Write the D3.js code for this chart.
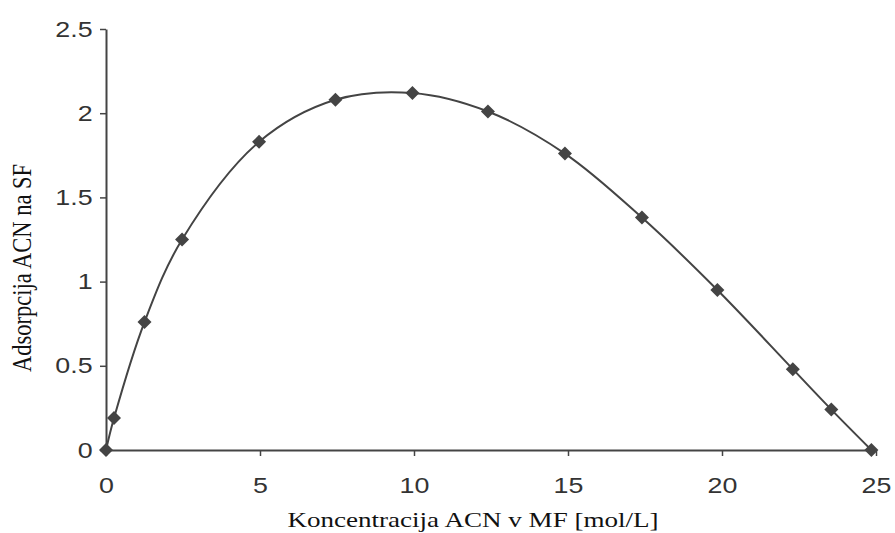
<!DOCTYPE html>
<html>
<head>
<meta charset="utf-8">
<script src="https://cdn.jsdelivr.net/npm/d3@7"></script>
<style>
  html, body { margin: 0; padding: 0; background: #fff; }
  svg { display: block; }
</style>
</head>
<body>
<div id="chart"></div>
<script>
// values
var concentration = [0, 0.26, 1.25, 2.47, 4.97, 7.45, 9.95, 12.4, 14.9, 17.4, 19.85, 22.3, 23.55, 24.85];
var adsorption = [0, 0.19, 0.76, 1.25, 1.83, 2.08, 2.12, 2.01, 1.76, 1.38, 0.95, 0.48, 0.24, 0];
var xTicks = [0, 5, 10, 15, 20, 25];
var yTicks = [0, 0.5, 1, 1.5, 2, 2.5];
var xTitle = "Koncentracija ACN v MF [mol/L]";
var yTitle = "Adsorpcija ACN na SF";

var width = 895, height = 533;
var margin = { left: 106, right: 19, top: 29, bottom: 83 };
var ink = "#444";
var stretch = 1.22; // the original picture is a bit wider than tall

var svg = d3.select("#chart").append("svg")
    .attr("width", width)
    .attr("height", height);

var x = d3.scaleLinear().domain([0, 25]).range([margin.left, width - margin.right]);
var y = d3.scaleLinear().domain([0, 2.5]).range([height - margin.bottom, margin.top]);

var xAxis = svg.append("g")
    .attr("transform", "translate(0," + y(0) + ")")
    .call(d3.axisBottom(x).tickValues(xTicks).tickSize(6).tickSizeOuter(0).tickPadding(17).tickFormat(d3.format("d")));

var yAxis = svg.append("g")
    .attr("transform", "translate(" + x(0) + ",0)")
    .call(d3.axisLeft(y).tickValues(yTicks).tickSize(6).tickSizeOuter(0).tickPadding(5).tickFormat(function(d) { return String(d); }));

[xAxis, yAxis].forEach(function(g) {
    g.select(".domain").attr("stroke", ink).attr("stroke-width", 2);
    g.selectAll(".tick line").attr("stroke", ink).attr("stroke-width", 1.5);
    g.selectAll(".tick text")
        .attr("fill", "#333")
        .attr("transform", "scale(" + stretch + ",1)")
        .style("font-family", "'Liberation Sans', Arial, sans-serif")
        .style("font-size", "22px");
});
xAxis.selectAll(".tick text").attr("dy", "0.9em");

var points = concentration.map(function(c, i) { return [c, adsorption[i]]; });

var line = d3.line()
    .x(function(d) { return x(d[0]); })
    .y(function(d) { return y(d[1]); })
    .curve(d3.curveCatmullRom.alpha(0.5));

svg.append("path")
    .datum(points)
    .attr("d", line)
    .attr("fill", "none")
    .attr("stroke", ink)
    .attr("stroke-width", 2);

svg.append("g").selectAll("path")
    .data(points)
    .enter().append("path")
    .attr("transform", function(d) { return "translate(" + x(d[0]) + "," + y(d[1]) + ")"; })
    .attr("d", "M0,-7L7,0L0,7L-7,0Z")
    .attr("fill", ink);

svg.append("text")
    .attr("transform", "translate(473,527) scale(1.23,1)")
    .attr("text-anchor", "middle")
    .attr("fill", "#111")
    .style("font-family", "'Liberation Serif', 'Times New Roman', serif")
    .style("font-size", "22px")
    .text(xTitle);

svg.append("text")
    .attr("transform", "translate(31,268) scale(1.2,1) rotate(-90)")
    .attr("text-anchor", "middle")
    .attr("fill", "#111")
    .style("font-family", "'Liberation Serif', 'Times New Roman', serif")
    .style("font-size", "22.5px")
    .text(yTitle);
</script>
</body>
</html>
